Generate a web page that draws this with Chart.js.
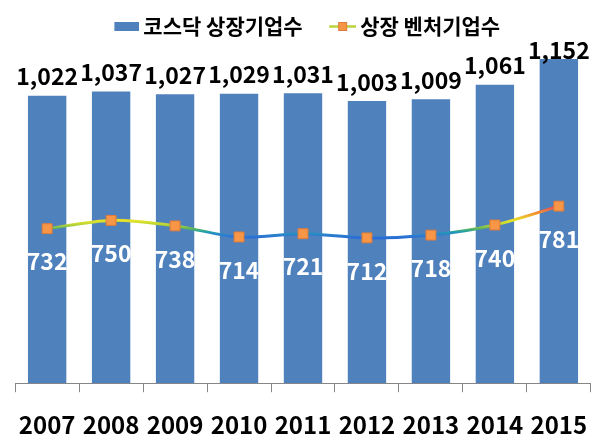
<!DOCTYPE html>
<html>
<head>
<meta charset="utf-8">
<script src="https://cdn.jsdelivr.net/npm/chart.js@4"></script>
<style>
  html, body { margin: 0; padding: 0; background: #fff; }
  #chart { display: block; }
</style>
</head>
<body>
<canvas id="chart" width="606" height="447"></canvas>
<script>
const years = ['2007', '2008', '2009', '2010', '2011', '2012', '2013', '2014', '2015'];
const kosdaqListed = [1022, 1037, 1027, 1029, 1031, 1003, 1009, 1061, 1152];
const ventureListed = [732, 750, 738, 714, 721, 712, 718, 740, 781];
const seriesNames = ['코스닥 상장기업수', '상장 벤처기업수'];

const FONT = "'Noto Sans CJK KR', 'Noto Sans', sans-serif";
const barColor = '#4F81BD';
const markerColor = '#F79646';
const markerEdge = '#E07B39';

// line colour changes with value (red high, blue low)
const lineStops = [
  [781, '#E5485A'],
  [765, '#F2962E'],
  [750, '#E6E42A'],
  [740, '#B5D335'],
  [732, '#5DB55A'],
  [725, '#1E9DAE'],
  [718, '#2B80D0'],
  [712, '#2A6CD6']
];

function lineGradient(context) {
  const chart = context.chart;
  if (!chart.chartArea) return markerColor;
  const y1 = chart.scales.y1;
  const top = y1.getPixelForValue(lineStops[0][0]);
  const bottom = y1.getPixelForValue(lineStops[lineStops.length - 1][0]);
  const g = chart.ctx.createLinearGradient(0, top, 0, bottom);
  lineStops.forEach(([v, c]) => g.addColorStop((y1.getPixelForValue(v) - top) / (bottom - top), c));
  return g;
}

// legend icons
function legendIcon(draw) {
  const c = document.createElement('canvas');
  c.width = 40;
  c.height = 13;
  draw(c.getContext('2d'));
  return c;
}
const barIcon = legendIcon(g => {
  g.fillStyle = barColor;
  g.fillRect(15, 2, 25, 9);
});
const lineIcon = legendIcon(g => {
  g.strokeStyle = '#BBD23C';
  g.lineWidth = 2.5;
  g.beginPath();
  g.moveTo(13, 6.5);
  g.lineTo(40, 6.5);
  g.stroke();
  g.fillStyle = markerColor;
  g.fillRect(22, 2, 9, 9);
  g.strokeStyle = markerEdge;
  g.lineWidth = 1;
  g.strokeRect(22.5, 2.5, 8, 8);
});

// value labels
const valueLabels = {
  id: 'valueLabels',
  afterDatasetsDraw(chart) {
    const ctx = chart.ctx;
    ctx.save();
    ctx.textAlign = 'center';
    ctx.textBaseline = 'middle';

    ctx.font = 'bold 23px ' + FONT;
    ctx.fillStyle = '#000';
    chart.getDatasetMeta(0).data.forEach((bar, i) => {
      const y = Math.max(bar.y - 19, chart.chartArea.top + 3);
      ctx.fillText(kosdaqListed[i].toLocaleString('en-US'), bar.x, y);
    });

    ctx.font = 'bold 23px ' + FONT;
    ctx.fillStyle = '#fff';
    chart.getDatasetMeta(1).data.forEach((pt, i) => {
      ctx.fillText(String(ventureListed[i]), pt.x, pt.y + 33);
    });
    ctx.restore();
  }
};

new Chart(document.getElementById('chart'), {
  data: {
    labels: years,
    datasets: [
      {
        type: 'bar',
        label: seriesNames[0],
        data: kosdaqListed,
        backgroundColor: barColor,
        barPercentage: 0.6,
        categoryPercentage: 1,
        yAxisID: 'y',
        order: 2
      },
      {
        type: 'line',
        label: seriesNames[1],
        data: ventureListed,
        yAxisID: 'y1',
        borderColor: lineGradient,
        borderWidth: 3,
        tension: 0.3,
        pointStyle: 'rect',
        pointRadius: 7,
        pointBackgroundColor: markerColor,
        pointBorderColor: markerEdge,
        pointBorderWidth: 1,
        order: 1
      }
    ]
  },
  options: {
    responsive: false,
    animation: false,
    layout: { padding: { top: -4, left: 15, right: 15, bottom: -10 } },
    plugins: {
      legend: {
        position: 'top',
        labels: {
          usePointStyle: true,
          pointStyleWidth: 27,
          padding: 20,
          color: '#000',
          font: { family: FONT, size: 21, weight: 'bold' },
          generateLabels: chart => chart.data.datasets.map((ds, i) => ({
            text: ds.label,
            datasetIndex: i,
            pointStyle: i === 0 ? barIcon : lineIcon,
            fillStyle: 'rgba(0,0,0,0)',
            strokeStyle: 'rgba(0,0,0,0)',
            lineWidth: 0,
            fontColor: '#000',
            hidden: false
          })),
          sort: (a, b) => a.datasetIndex - b.datasetIndex
        }
      },
      tooltip: { enabled: false }
    },
    scales: {
      x: {
        grid: { offset: true, drawOnChartArea: false, tickLength: 9, color: '#868686' },
        border: { color: '#868686' },
        ticks: {
          padding: 18,
          maxRotation: 0,
          autoSkip: false,
          color: '#000',
          font: { family: FONT, size: 24, weight: 'bold' }
        }
      },
      y: { display: false, min: 0, max: 1195 },
      y1: { display: false, min: 396, max: 1127 }
    }
  },
  plugins: [valueLabels]
});
</script>
</body>
</html>
